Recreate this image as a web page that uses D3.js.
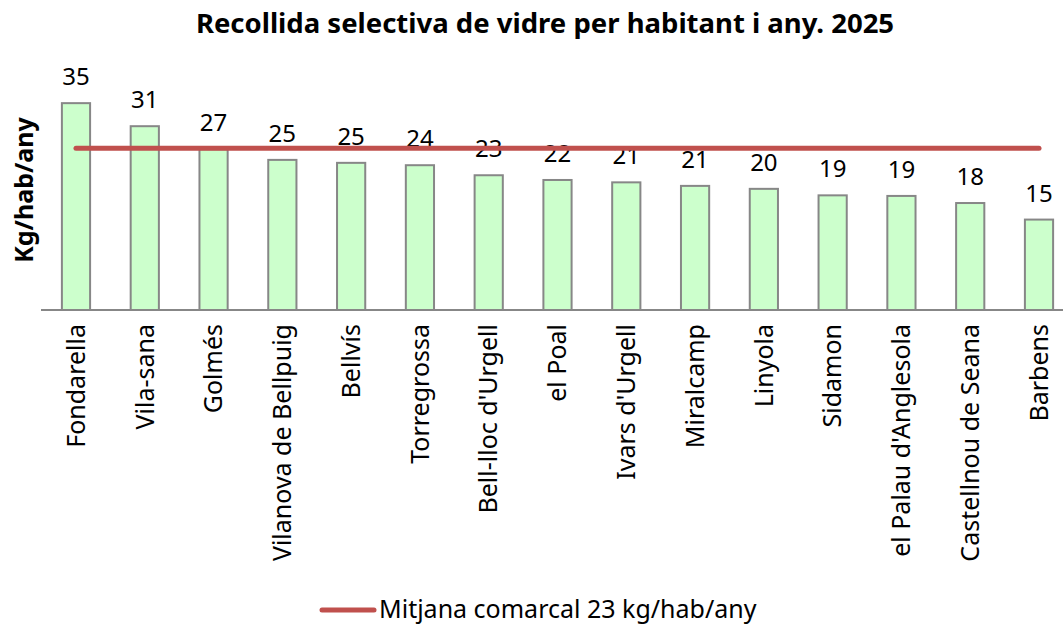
<!DOCTYPE html>
<html><head><meta charset="utf-8">
<script src="https://cdn.jsdelivr.net/npm/d3@7"></script>
<style>body{margin:0;background:#fff}svg{display:block}</style>
</head><body>
<script>
const categories = ["Fondarella","Vila-sana","Golmés","Vilanova de Bellpuig","Bellvís","Torregrossa","Bell-lloc d'Urgell","el Poal","Ivars d'Urgell","Miralcamp","Linyola","Sidamon","el Palau d'Anglesola","Castellnou de Seana","Barbens"];
const values = [35.0,31.1,27.2,25.4,24.9,24.5,22.8,22.0,21.6,21.0,20.5,19.4,19.3,18.1,15.3];
const labels = ["35","31","27","25","25","24","23","22","21","21","20","19","19","18","15"];
const meanValue = 23;
const meanLabel = "Mitjana comarcal 23 kg/hab/any";
const title = "Recollida selectiva de vidre per habitant i any. 2025";
const yTitle = "Kg/hab/any";

const W = 1063, H = 628, font = "'Noto Sans', 'Open Sans', sans-serif";
const svg = d3.select("body").append("svg").attr("width", W).attr("height", H);

const x = d3.scaleBand().domain(categories).range([41.6, 1073.4]).paddingInner(0.59).paddingOuter(0.295);
const y = d3.scaleLinear().domain([0, 40]).range([310, 73.6]);
const y2 = d3.scaleLinear().domain([0, 33.6]).range([310, 73.6]);

svg.append("text").attr("x", 545).attr("y", 33).attr("text-anchor", "middle")
  .attr("font-family", font).attr("font-weight", "bold").attr("font-size", 27.5).text(title);

svg.append("text").attr("transform", "translate(33,190) rotate(-90)").attr("text-anchor", "middle")
  .attr("font-family", font).attr("font-weight", "bold").attr("font-size", 25).text(yTitle);

svg.selectAll("rect.bar").data(values).enter().append("rect")
  .attr("x", (d, i) => x(categories[i])).attr("width", x.bandwidth())
  .attr("y", d => y(d)).attr("height", d => y(0) - y(d))
  .attr("fill", "#ccffcc").attr("stroke", "#878787").attr("stroke-width", 2);

const xAxis = svg.append("g").attr("transform", `translate(0,${y(0)})`)
  .call(d3.axisBottom(x).tickSize(0).tickPadding(0));
xAxis.select(".domain").attr("stroke", "#878787").attr("stroke-width", 2).attr("d", `M41,0H${W}`);
xAxis.selectAll("text").attr("font-family", font).attr("font-size", 25).attr("fill", "#000")
  .attr("text-anchor", "end").attr("dy", "0.35em")
  .attr("transform", "translate(0,14) rotate(-90)");

svg.selectAll("text.val").data(values).enter().append("text")
  .attr("x", (d, i) => x(categories[i]) + x.bandwidth() / 2).attr("y", d => y(d) - 18)
  .attr("text-anchor", "middle").attr("font-family", font).attr("font-size", 24)
  .text((d, i) => labels[i]);

const line = d3.line().x(d => x(d) + x.bandwidth() / 2).y(() => y2(meanValue));
svg.append("path").attr("d", line(categories)).attr("stroke", "#c0504d")
  .attr("stroke-width", 5).attr("stroke-linecap", "round").attr("fill", "none");

svg.append("line").attr("x1", 322).attr("x2", 374).attr("y1", 610).attr("y2", 610)
  .attr("stroke", "#c0504d").attr("stroke-width", 5).attr("stroke-linecap", "round");
svg.append("text").attr("x", 379).attr("y", 618).attr("font-family", font).attr("font-size", 25).text(meanLabel);
</script>
</body></html>
